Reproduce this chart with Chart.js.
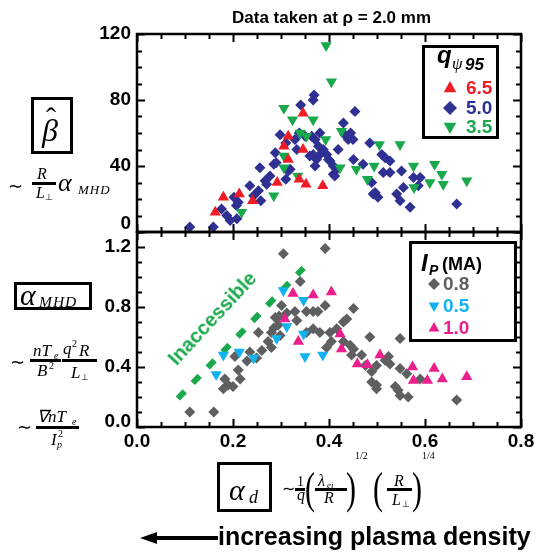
<!DOCTYPE html>
<html>
<head>
<meta charset="utf-8">
<script src="https://cdn.jsdelivr.net/npm/chart.js@4.4.0/dist/chart.umd.min.js"></script>
<style>
html, body { margin: 0; padding: 0; background: #fff; }
#wrap { position: relative; width: 537px; height: 554px; overflow: hidden; }
#wrap canvas { position: absolute; left: 0; top: 0; }
.abs { position: absolute; white-space: nowrap; line-height: 1; color: #000; }
.serif { font-family: 'Liberation Serif', 'Times New Roman', serif; font-style: italic; }
.sans { font-family: 'Liberation Sans', Arial, sans-serif; font-weight: bold; }
</style>
</head>
<body>
<div id="wrap">
  <canvas id="topChart" width="537" height="554"></canvas>
  <canvas id="botChart" width="537" height="554"></canvas>
</div>
<script>
// ---- data ----
const xTicks = [0, 0.2, 0.4, 0.6, 0.8];
const betaTicks = [0, 40, 80, 120];
const alphaTicks = [0, 0.4, 0.8, 1.2];

// top panel: beta-hat vs alpha_d, grouped by q95
const q65 = [[0.163,12],[0.18,21],[0.213,23],[0.241,19],[0.292,30],[0.315,44],[0.306,52],[0.315,58],
  [0.346,72],[0.346,50],[0.338,32],[0.352,29],[0.387,28]];
const q35 = [[0.218,12],[0.285,22],[0.306,39],[0.306,46],[0.306,75],[0.324,68],[0.335,34],[0.34,60],
  [0.353,58],[0.367,68],[0.393,56],[0.394,113],[0.405,91],[0.423,39],[0.426,61],[0.457,38],[0.48,32],
  [0.494,40],[0.505,53],[0.548,53],[0.576,40],[0.577,27],[0.61,30],[0.62,41],[0.635,35],[0.638,29],[0.687,31]];
const q50 = [[0.11,3],[0.159,3],[0.176,14],[0.187,10],[0.194,7],[0.208,8],[0.202,21],[0.211,18],[0.207,16],
  [0.235,28],[0.243,22],[0.253,25],[0.258,19],[0.256,39],[0.267,31],[0.277,34],[0.27,29],[0.285,41],
  [0.288,48],[0.29,42],[0.298,59],[0.31,54],[0.31,32],[0.315,37],[0.319,38],[0.329,56],[0.333,50],
  [0.338,60],[0.341,77],[0.35,58],[0.364,58],[0.367,80],[0.369,83],[0.371,56],[0.367,47],[0.374,44],
  [0.36,46],[0.371,40],[0.378,52],[0.381,60],[0.381,47],[0.388,50],[0.395,47],[0.399,44],[0.402,43],
  [0.409,35],[0.409,40],[0.412,34],[0.416,38],[0.419,50],[0.43,66],[0.433,59],[0.44,56],[0.445,60],
  [0.45,56],[0.454,73],[0.451,44],[0.471,41],[0.485,54],[0.51,47],[0.517,45],[0.527,43],[0.513,36],
  [0.527,36],[0.551,37],[0.489,30],[0.496,24],[0.502,21],[0.492,23],[0.541,23],[0.548,19],[0.555,27],
  [0.569,15],[0.576,33],[0.59,33],[0.586,28],[0.666,17]];

// bottom panel: alpha_MHD vs alpha_d, grouped by Ip (MA)
const ip08 = [[0.11,0.1],[0.16,0.1],[0.183,0.32],[0.19,0.28],[0.2,0.27],[0.18,0.255],[0.211,0.38],
  [0.215,0.32],[0.204,0.47],[0.229,0.44],[0.235,0.5],[0.249,0.46],[0.253,0.63],[0.26,0.51],[0.273,0.57],
  [0.28,0.63],[0.28,0.53],[0.288,0.73],[0.294,0.68],[0.298,0.61],[0.301,0.81],[0.312,0.76],[0.296,0.74],
  [0.285,0.66],[0.305,1.155],[0.34,0.97],[0.329,0.77],[0.333,0.71],[0.353,0.77],[0.367,0.77],[0.377,0.77],
  [0.392,0.81],[0.392,1.19],[0.353,0.63],[0.367,0.655],[0.381,0.63],[0.395,0.53],[0.405,0.57],[0.402,0.63],
  [0.416,0.655],[0.43,0.7],[0.437,0.72],[0.451,0.79],[0.43,0.57],[0.444,0.545],[0.451,0.52],[0.485,0.6],
  [0.548,0.59],[0.447,0.48],[0.468,0.48],[0.476,0.41],[0.489,0.37],[0.499,0.41],[0.517,0.445],[0.524,0.47],
  [0.527,0.42],[0.548,0.39],[0.562,0.355],[0.59,0.32],[0.489,0.3],[0.499,0.28],[0.499,0.255],[0.538,0.27],
  [0.544,0.245],[0.548,0.21],[0.565,0.2],[0.666,0.18]];
const ip05 = [[0.165,0.35],[0.18,0.48],[0.213,0.5],[0.243,0.46],[0.291,0.59],[0.305,0.91],[0.312,0.67],
  [0.347,0.845],[0.347,0.62],[0.35,0.47],[0.387,0.48]];
const ip10 = [[0.308,0.72],[0.325,0.89],[0.336,0.57],[0.367,0.88],[0.405,0.9],[0.423,0.62],[0.426,0.52],
  [0.459,0.42],[0.48,0.415],[0.506,0.48],[0.574,0.4],[0.576,0.31],[0.605,0.31],[0.619,0.39],[0.636,0.32],
  [0.687,0.335]];
const inaccessible = [[0.085,0.19],[0.347,1.06]];

const RED = '#ee1c25', BLUE = '#2e3192', GREEN = '#19a84c';
const GRAY = '#5e5f61', CYAN = '#12b2ee', PINK = '#ea1e8c';

Chart.defaults.font.family = "'Liberation Sans', Arial, sans-serif";

function pts(arr) { return arr.map(function(p) { return { x: p[0], y: p[1] }; }); }

function marker(data, color, style, r, rot) {
  return {
    type: 'scatter', data: pts(data),
    pointStyle: style, pointRadius: r, pointRotation: rot || 0,
    pointBackgroundColor: color, pointBorderWidth: 0, borderWidth: 0
  };
}

// draws a triangle / diamond for the legends
function legendMark(ctx, x, y, kind, r, color) {
  ctx.fillStyle = color;
  ctx.beginPath();
  if (kind === 'up') {
    ctx.moveTo(x, y - r); ctx.lineTo(x + r * 0.9, y + r * 0.6); ctx.lineTo(x - r * 0.9, y + r * 0.6);
  } else if (kind === 'down') {
    ctx.moveTo(x, y + r); ctx.lineTo(x + r * 0.9, y - r * 0.6); ctx.lineTo(x - r * 0.9, y - r * 0.6);
  } else {
    ctx.moveTo(x, y - r); ctx.lineTo(x + r, y); ctx.lineTo(x, y + r); ctx.lineTo(x - r, y);
  }
  ctx.closePath();
  ctx.fill();
}

// frame with inward ticks on all four sides
const frameTicks = {
  id: 'frameTicks',
  afterDatasetsDraw: function(chart, args, opts) {
    const ctx = chart.ctx, a = chart.chartArea;
    const xs = chart.scales.x, ys = chart.scales.y;
    ctx.save();
    ctx.strokeStyle = '#000';
    ctx.lineWidth = 2;
    ctx.beginPath();
    for (let i = 0; i <= 16; i++) {
      const px = Math.round(xs.getPixelForValue(i * 0.05)) + 0.5;
      const len = i % 4 === 0 ? 8 : 5;
      ctx.moveTo(px, a.bottom); ctx.lineTo(px, a.bottom - len);
      ctx.moveTo(px, a.top); ctx.lineTo(px, a.top + len);
    }
    const n = Math.round((ys.max - ys.min) / opts.step);
    for (let j = 0; j <= n; j++) {
      const py = Math.round(ys.getPixelForValue(j * opts.step)) + 0.5;
      const len = j % opts.major === 0 ? 8 : 5;
      ctx.moveTo(a.left, py); ctx.lineTo(a.left + len, py);
      ctx.moveTo(a.right, py); ctx.lineTo(a.right - len, py);
    }
    ctx.stroke();
    ctx.lineWidth = 2.5;
    ctx.strokeRect(a.left, a.top, a.right - a.left, a.bottom - a.top);
    ctx.restore();
  }
};

const topLegend = {
  id: 'topLegend',
  afterDraw: function(chart) {
    const ctx = chart.ctx;
    ctx.save();
    ctx.fillStyle = '#fff';
    ctx.fillRect(423, 46, 74, 91);
    ctx.strokeStyle = '#000'; ctx.lineWidth = 3;
    ctx.strokeRect(423.5, 46.5, 74, 91);
    ctx.fillStyle = '#000';
    ctx.textBaseline = 'alphabetic';
    ctx.font = "italic bold 24px 'Liberation Sans', Arial";
    ctx.fillText('q', 437, 63);
    ctx.font = "italic 17px 'Liberation Serif', serif";
    ctx.fillText('\u03c8', 452, 69);
    ctx.font = "italic bold 17px 'Liberation Sans', Arial";
    ctx.fillText('95', 465, 70);
    const items = [['6.5', RED, 'up', 88], ['5.0', BLUE, 'dia', 108], ['3.5', GREEN, 'down', 127]];
    ctx.font = "bold 19px 'Liberation Sans', Arial";
    ctx.textBaseline = 'middle';
    items.forEach(function(it) {
      legendMark(ctx, 450, it[3], it[2], 7, it[1]);
      ctx.fillStyle = it[1];
      ctx.fillText(it[0], 466, it[3] + 1);
    });
    ctx.restore();
  }
};

const botLegend = {
  id: 'botLegend',
  afterDraw: function(chart) {
    const ctx = chart.ctx;
    ctx.save();
    ctx.fillStyle = '#fff';
    ctx.fillRect(410, 242, 105, 98);
    ctx.strokeStyle = '#000'; ctx.lineWidth = 3;
    ctx.strokeRect(410.5, 242.5, 105, 98);
    ctx.fillStyle = '#000';
    ctx.font = "italic bold 24px 'Liberation Sans', Arial";
    ctx.fillText('I', 421, 271);
    ctx.font = "italic bold 14px 'Liberation Sans', Arial";
    ctx.fillText('P', 429, 275);
    ctx.font = "bold 18px 'Liberation Sans', Arial";
    ctx.fillText('(MA)', 442, 270);
    const items = [['0.8', GRAY, 'dia', 284], ['0.5', CYAN, 'down', 306], ['1.0', PINK, 'up', 328]];
    ctx.font = "bold 19px 'Liberation Sans', Arial";
    ctx.textBaseline = 'middle';
    items.forEach(function(it) {
      legendMark(ctx, 434, it[3], it[2], 6, it[1]);
      ctx.fillStyle = it[1];
      ctx.fillText(it[0], 443, it[3] + 1);
    });
    ctx.restore();
  }
};

// lift: the bottom label is raised by half a line (two-line trick)
function scalesFor(yMin, yMax, yTicks, yFmt, lift, showX) {
  return {
    x: {
      type: 'linear', min: 0, max: 0.8, display: showX,
      grid: { display: false, drawTicks: false }, border: { display: false },
      afterBuildTicks: function(s) { s.ticks = xTicks.map(function(v) { return { value: v }; }); },
      afterFit: function(s) {
        if (!showX) return;
        s.height = 30; s.paddingLeft = 0; s.paddingRight = 0;
      },
      ticks: { padding: 3, color: '#000', maxRotation: 0, font: { size: 19, weight: 'bold' },
        callback: function(v) { return v.toFixed(1); } }
    },
    y: {
      type: 'linear', min: yMin, max: yMax,
      grid: { display: false, drawTicks: false }, border: { display: false },
      afterBuildTicks: function(s) { s.ticks = yTicks.map(function(v) { return { value: v }; }); },
      afterFit: function(s) { s.width = 137; },
      ticks: { padding: 6, color: '#000', font: { size: 19, weight: 'bold', lineHeight: lift },
        callback: function(v) { return v === 0 ? [yFmt(v), ''] : yFmt(v); } }
    }
  };
}

new Chart(document.getElementById('topChart'), {
  data: {
    datasets: [
      marker(q65, RED, 'triangle', 6.5),
      marker(q35, GREEN, 'triangle', 6.5, 180),
      marker(q50, BLUE, 'rectRot', 5.5)
    ]
  },
  options: {
    responsive: false, animation: false, events: [],
    layout: { padding: { left: 0, top: 34, right: 16, bottom: 322 } },
    plugins: { legend: { display: false }, tooltip: { enabled: false }, frameTicks: { step: 10, major: 4 } },
    scales: scalesFor(0, 120, betaTicks, function(v) { return String(v); }, 0.85, false)
  },
  plugins: [frameTicks, topLegend]
});

new Chart(document.getElementById('botChart'), {
  data: {
    datasets: [
      marker(ip10, PINK, 'triangle', 6.5),
      marker(ip05, CYAN, 'triangle', 6.5, 180),
      marker(ip08, GRAY, 'rectRot', 5.5),
      {
        type: 'line', data: pts(inaccessible),
        borderColor: GREEN, borderWidth: 6, borderDash: [10, 11.5],
        pointRadius: 0, fill: false
      }
    ]
  },
  options: {
    responsive: false, animation: false, events: [],
    layout: { padding: { left: 0, top: 232, right: 16, bottom: 97 } },
    plugins: { legend: { display: false }, tooltip: { enabled: false }, frameTicks: { step: 0.1, major: 4 } },
    scales: scalesFor(0, 1.3, alphaTicks, function(v) { return v.toFixed(1); }, 0.55, true)
  },
  plugins: [frameTicks, botLegend]
});

// ---- annotations around the plot ----
const wrap = document.getElementById('wrap');
// place text by baseline
function put(html, x, base, size, cls, extra) {
  const d = document.createElement('div');
  d.className = 'abs ' + cls;
  d.style.left = x + 'px';
  d.style.top = (base - size * (cls === 'serif' ? 0.84 : 0.85)) + 'px';
  d.style.fontSize = size + 'px';
  if (extra) d.style.cssText += extra;
  d.innerHTML = html;
  wrap.appendChild(d);
  return d;
}
function rule(x, y, w, h) {
  const d = document.createElement('div');
  d.className = 'abs';
  d.style.cssText = 'left:' + x + 'px;top:' + y + 'px;width:' + w + 'px;height:' + h + 'px;background:#000';
  wrap.appendChild(d);
}
function box(x, y, w, h) {
  const d = document.createElement('div');
  d.className = 'abs';
  d.style.cssText = 'left:' + x + 'px;top:' + y + 'px;width:' + w + 'px;height:' + h +
    'px;border:3px solid #000;box-sizing:border-box';
  wrap.appendChild(d);
}
const UP = 'font-style:normal';

put('Data taken at \u03c1 = 2.0 mm', 232, 23, 17, 'sans');

// beta hat
box(31, 97, 42, 57);
put('\u03b2', 42, 141, 32, 'serif');
put('\u02c6', 46, 128, 30, 'serif', UP);
put('\u223c', 8, 192, 18, 'serif', UP);
put('R', 37, 179, 16, 'serif');
rule(32, 182, 24, 3);
put('L', 36, 198, 16, 'serif');
put('\u22a5', 45, 201, 9, 'serif', UP);
put('\u03b1', 58, 192, 26, 'serif');
put('MHD', 78, 194, 13, 'serif', 'letter-spacing:1px');

// alpha MHD
box(14, 282, 78, 28);
put('\u03b1', 20, 305, 30, 'serif');
put('MHD', 39, 307, 15.5, 'serif', 'letter-spacing:1px');
put('\u223c', 10, 368, 18, 'serif', UP);
put('nT', 33, 356, 17, 'serif');
put('e', 54, 359, 10, 'serif');
rule(30, 359, 31, 3);
put('B', 37, 376, 17, 'serif');
put('2', 49, 369, 10, 'serif', UP);
put('q', 63, 354, 17, 'serif');
put('2', 72, 347, 10, 'serif', UP);
put('R', 79, 356, 17, 'serif');
rule(62, 359, 35, 3);
put('L', 71, 378, 17, 'serif');
put('\u22a5', 81, 381, 9, 'serif', UP);
put('\u223c', 17, 433, 18, 'serif', UP);
put('\u2207nT', 37, 422, 17, 'serif');
put('e', 72, 425, 10, 'serif');
rule(36, 426, 43, 3);
put('I', 51, 445, 17, 'serif');
put('p', 57, 448, 10, 'serif');
put('2', 58, 437, 10, 'serif', UP);

// alpha d
box(217, 462, 55, 50);
put('\u03b1', 229, 500, 30, 'serif');
put('d', 249, 503, 18, 'serif');
put('\u223c', 282, 494, 16, 'serif', UP);
put('1', 297, 487, 14, 'serif', UP);
rule(295, 488, 10, 2.5);
put('q', 297, 500, 16, 'serif');
put('(', 305, 502, 30, 'serif', UP + ';transform:scaleY(1.5);transform-origin:0 80%');
put('\u03bb', 318, 486, 16, 'serif');
put('ei', 327, 489, 9, 'serif');
rule(315, 488, 32, 2.5);
put('R', 324, 503, 16, 'serif');
put(')', 346, 502, 30, 'serif', UP + ';transform:scaleY(1.5);transform-origin:0 80%');
put('1/2', 355, 459, 10, 'serif', UP);
put('(', 373, 502, 30, 'serif', UP + ';transform:scaleY(1.5);transform-origin:0 80%');
put('R', 394, 486, 16, 'serif');
rule(387, 488, 25, 2.5);
put('L', 392, 505, 16, 'serif');
put('\u22a5', 402, 508, 9, 'serif', UP);
put(')', 412, 502, 30, 'serif', UP + ';transform:scaleY(1.5);transform-origin:0 80%');
put('1/4', 422, 459, 10, 'serif', UP);

// arrow + caption
const arrow = document.createElement('div');
arrow.className = 'abs';
arrow.style.cssText = 'left:140px;top:530px';
arrow.innerHTML = '<svg width="80" height="16"><line x1="12" y1="8" x2="78" y2="8" stroke="#000" stroke-width="4"/>' +
  '<polygon points="0,8 17,2 17,14" fill="#000"/></svg>';
wrap.appendChild(arrow);
put('increasing plasma density', 218, 545, 25, 'sans');

// inaccessible label
const lab = document.createElement('div');
lab.className = 'abs sans';
lab.style.cssText = 'left:212px;top:318px;font-size:20px;color:' + GREEN +
  ';transform:translate(-50%,-50%) rotate(-47deg)';
lab.textContent = 'Inaccessible';
wrap.appendChild(lab);
</script>
</body>
</html>
